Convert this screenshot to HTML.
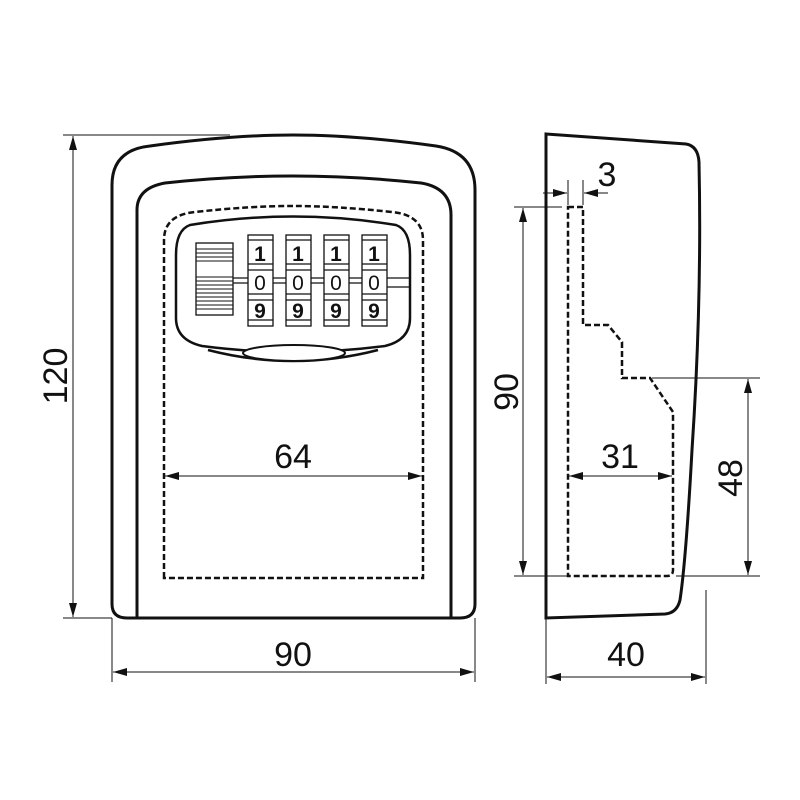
<!DOCTYPE html>
<html><head><style>body{margin:0;background:#fff}svg{display:block}</style></head><body>
<svg width="800" height="800" viewBox="0 0 800 800" xmlns="http://www.w3.org/2000/svg" font-family="Liberation Sans, sans-serif">
<defs>
<marker id="a" markerWidth="14" markerHeight="8" refX="14" refY="4" orient="auto" markerUnits="userSpaceOnUse"><path d="M0,0 L14,4 L0,8 Z" fill="#111"/></marker>
<marker id="b" markerWidth="14" markerHeight="8" refX="0" refY="4" orient="auto" markerUnits="userSpaceOnUse"><path d="M14,0 L0,4 L14,8 Z" fill="#111"/></marker>
</defs>
<g fill="none" stroke="#111" stroke-width="3">
<path d="M112,604 L112,185 Q112,150 150,146 Q230,135 293,135 Q356,135 436,146 Q475,152 475,190 L475,604 Q475,618 460,618 L127,618 Q112,618 112,604 Z"/>
<path d="M137,618 L137,210 Q137,188 165,183 Q230,176 293,176 Q356,176 421,183 Q451,188 451,215 L451,618"/>
<path d="M190,225 Q293,208 396,225 Q410,230 410,255 L410,318 Q410,340 385,346 Q293,358 202,346 Q176,340 176,318 L176,255 Q176,230 190,225 Z" stroke-width="2.5"/>
<path d="M208,350 Q293,372 378,350" stroke-width="2.5"/>
<ellipse cx="294" cy="353" rx="51" ry="8" stroke-width="2" fill="#fff"/>
</g>
<g stroke="#111" stroke-width="1.3" fill="#fff">
<rect x="196" y="243" width="37" height="72"/>
<g stroke-width="1"><path d="M196,249H233M196,253H233M196,257H233M196,261H233M196,277H233M196,281H233M196,285H233M196,289H233M196,293H233M196,297H233M196,301H233M196,305H233M196,309H233"/></g>
<path d="M233,278H248M233,283H248M273,278H286M273,283H286M311,278H324M311,283H324M349,278H362M349,283H362M387,278H410M387,287H410" fill="none"/>
<g id="d">
<rect x="248" y="235" width="25" height="91"/>
<path d="M248,240H273M248,264H273M248,270H273M248,294H273M248,300H273M248,320H273" fill="none"/>
</g>
<use href="#d" x="38"/><use href="#d" x="76"/><use href="#d" x="114"/>
</g>
<g font-size="21" text-anchor="middle" fill="#111">
<text x="260" y="261" font-weight="bold">1</text><text x="298" y="261" font-weight="bold">1</text><text x="336" y="261" font-weight="bold">1</text><text x="374" y="261" font-weight="bold">1</text>
<text x="260" y="290">0</text><text x="298" y="290">0</text><text x="336" y="290">0</text><text x="374" y="290">0</text>
<text x="260" y="318" font-weight="bold">9</text><text x="298" y="318" font-weight="bold">9</text><text x="336" y="318" font-weight="bold">9</text><text x="374" y="318" font-weight="bold">9</text>
</g>
<path d="M164,578 L164,240 Q164,215 195,212 Q250,206 293,206 Q336,206 392,212 Q423,215 423,240 L423,578 Z" fill="none" stroke="#111" stroke-width="2.5" stroke-dasharray="6,3"/>
<path d="M546,134 L686,144 Q698,146 699,162 Q702,300 692,450 Q686,560 680,600 Q677,613 665,614 L546,618 Z" fill="none" stroke="#111" stroke-width="3"/>
<path d="M568,207 L583,207 L583,325 L608,325 L622,342 L622,378 L650,378 L673,412 L673,570 Q673,576 667,576 L568,576 Z" fill="none" stroke="#111" stroke-width="2.5" stroke-dasharray="6,3"/>
<g stroke="#111" stroke-width="1" fill="none">
<path d="M63,135H230M63,618H112M112,618V682M475,618V682"/>
<path d="M73,136V617" marker-start="url(#b)" marker-end="url(#a)"/>
<path d="M113,672H474" marker-start="url(#b)" marker-end="url(#a)"/>
<path d="M165,476H422" marker-start="url(#b)" marker-end="url(#a)"/>
<path d="M514,207H562M514,576H568M546,618V684M706,590V684M568,180V205M583,180V205M652,378H760M676,576H760"/>
<path d="M523,208V575" marker-start="url(#b)" marker-end="url(#a)"/>
<path d="M547,677H705" marker-start="url(#b)" marker-end="url(#a)"/>
<path d="M748,379V575" marker-start="url(#b)" marker-end="url(#a)"/>
<path d="M569,476H672" marker-start="url(#b)" marker-end="url(#a)"/>
<path d="M543,193H567" marker-end="url(#a)"/>
<path d="M608,193H584" marker-end="url(#a)"/>
</g>
<g font-size="34" fill="#111" text-anchor="middle">
<text x="293" y="666">90</text>
<text x="293" y="468">64</text>
<text x="626" y="666">40</text>
<text x="620" y="468">31</text>
<text x="607" y="186">3</text>
<text transform="translate(67,376) rotate(-90)">120</text>
<text transform="translate(518,392) rotate(-90)">90</text>
<text transform="translate(742,478) rotate(-90)">48</text>
</g>
</svg>
</body></html>
